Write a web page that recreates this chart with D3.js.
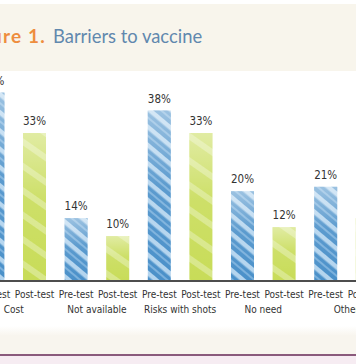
<!DOCTYPE html>
<html><head><meta charset="utf-8">
<script src="https://cdn.jsdelivr.net/npm/d3@7"></script>
<style>html,body{margin:0;padding:0;background:#fff;overflow:hidden}</style>
</head><body>
<script>
const categories = ["Cost","Not available","Risks with shots","No need","Other"];
const phases = ["Pre-test","Post-test"];
const preValues = [42,14,38,20,21];
const postValues = [33,10,33,12,14];
const valueLabels = ["42%","33%","14%","10%","38%","33%","20%","12%","21%","14%"];

const W=356,H=364;
const svg=d3.select("body").append("svg").attr("width",W).attr("height",H);
const defs=svg.append("defs");

// textures
const pb=defs.append("pattern").attr("id","bluePat").attr("patternUnits","userSpaceOnUse")
  .attr("width",14).attr("height",14).attr("patternTransform","rotate(40)");
pb.append("rect").attr("width",14).attr("height",14).attr("fill","#4a90c9");
pb.append("rect").attr("y",0).attr("width",14).attr("height",4.5).attr("fill","#b3d4ee");
pb.append("rect").attr("y",8).attr("width",14).attr("height",2).attr("fill","#7ab0dc");
const pg=defs.append("pattern").attr("id","greenPat").attr("patternUnits","userSpaceOnUse")
  .attr("width",20).attr("height",20).attr("patternTransform","rotate(35)");
pg.append("rect").attr("width",20).attr("height",20).attr("fill","#c8dc58");
pg.append("rect").attr("y",0).attr("width",20).attr("height",6).attr("fill","#d8e78a");
const gl=defs.append("linearGradient").attr("id","glow").attr("x1",0).attr("x2",0).attr("y1",0).attr("y2",1);
gl.append("stop").attr("offset","0").attr("stop-color","#ffffff").attr("stop-opacity",0.45);
gl.append("stop").attr("offset","0.45").attr("stop-color","#ffffff").attr("stop-opacity",0.1);
gl.append("stop").attr("offset","1").attr("stop-color","#ffffff").attr("stop-opacity",0);

// backgrounds
const bgGrad=defs.append("linearGradient").attr("id","botGrad").attr("x1",0).attr("x2",0).attr("y1",0).attr("y2",1);
bgGrad.append("stop").attr("offset","0").attr("stop-color","#ffffff");
bgGrad.append("stop").attr("offset","0.35").attr("stop-color","#f8f5ee");
svg.append("rect").attr("x",0).attr("y",0).attr("width",W).attr("height",H).attr("fill","#fff");
svg.append("rect").attr("x",0).attr("y",4).attr("width",W).attr("height",67).attr("fill","#f8f5ec");
svg.append("rect").attr("x",0).attr("y",326).attr("width",W).attr("height",28).attr("fill","url(#botGrad)");
svg.append("rect").attr("x",0).attr("y",354).attr("width",W).attr("height",2).attr("fill","#8a5a7c");
svg.append("rect").attr("x",0).attr("y",356).attr("width",W).attr("height",8).attr("fill","#f6ecf2");

// title
svg.append("text").attr("x",46).attr("y",43).attr("text-anchor","end")
  .attr("font-family","Lato, 'Open Sans', sans-serif").attr("font-weight","bold").attr("font-size",19)
  .attr("letter-spacing",1.2).attr("fill","#ee8d3e").text("Figure 1.");
svg.append("text").attr("x",53).attr("y",43)
  .attr("font-family","Lato, 'Open Sans', sans-serif").attr("font-size",18.4)
  .attr("fill","#6188ae").text("Barriers to vaccine");

// data
const bars=[];
categories.forEach((c,i)=>{
  bars.push({cat:c,phase:phases[0],v:preValues[i],idx:i*2});
  bars.push({cat:c,phase:phases[1],v:postValues[i],idx:i*2+1});
});
bars.forEach((b,i)=>b.label=valueLabels[i]);

const x=d3.scaleBand().domain(d3.range(bars.length)).range([-27.9,-27.9+416])
  .paddingInner(0.447).paddingOuter(0.2235);
const baseY=281;
const y=d3.scaleLinear().domain([0,33]).range([baseY,133]);

const bg=svg.selectAll("g.bar").data(bars).enter().append("g").attr("class","bar");
bg.append("rect")
  .attr("x",d=>x(d.idx)).attr("width",x.bandwidth())
  .attr("y",d=>y(d.v)).attr("height",d=>baseY-y(d.v))
  .attr("fill",d=>d.phase==="Pre-test"?"url(#bluePat)":"url(#greenPat)");
bg.append("rect")
  .attr("x",d=>x(d.idx)).attr("width",x.bandwidth())
  .attr("y",d=>y(d.v)).attr("height",d=>baseY-y(d.v))
  .attr("fill","url(#glow)");

svg.selectAll("text.val").data(bars).enter().append("text").attr("class","val")
  .attr("x",d=>x(d.idx)+x.bandwidth()/2).attr("y",d=>y(d.v)-8)
  .attr("text-anchor","middle").attr("font-family","'DejaVu Sans Condensed', 'Open Sans', sans-serif")
  .attr("font-size",11.5).attr("fill","#333").text(d=>d.label);

// axis
const axis=d3.axisBottom(x).tickSize(0).tickFormat(i=>bars[i].phase);
const ag=svg.append("g").attr("transform",`translate(0,${baseY})`).call(axis);
ag.select(".domain").remove();
ag.selectAll("text").attr("dy",null).attr("y",17).attr("font-family","'DejaVu Sans Condensed', 'Open Sans', sans-serif")
  .attr("font-size",10).attr("fill","#333");
svg.append("line").attr("x1",0).attr("x2",W).attr("y1",baseY).attr("y2",baseY)
  .attr("stroke","#4d4d4d").attr("stroke-width",2);

svg.selectAll("text.cat").data(categories).enter().append("text").attr("class","cat")
  .attr("x",(d,i)=>(x(i*2)+x(i*2+1)+x.bandwidth())/2).attr("y",313)
  .attr("text-anchor","middle").attr("font-family","'DejaVu Sans Condensed', 'Open Sans', sans-serif")
  .attr("font-size",10).attr("fill","#333").text(d=>d);
</script>
</body></html>
